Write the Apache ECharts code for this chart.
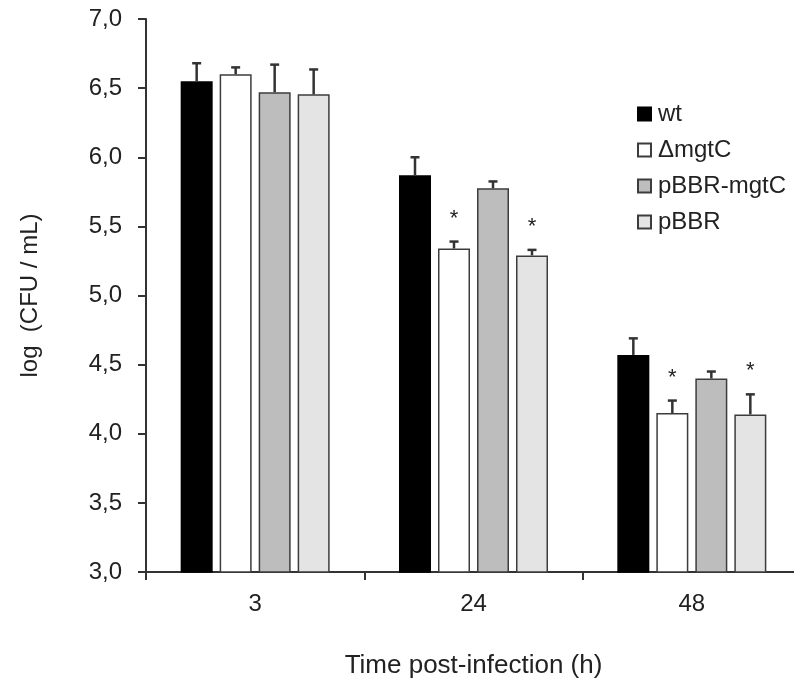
<!DOCTYPE html>
<html>
<head>
<meta charset="utf-8">
<script src="https://cdn.jsdelivr.net/npm/echarts@6/dist/echarts.min.js"></script>
<style>
  html, body { margin: 0; padding: 0; background: #fff; }
  #chart { width: 794px; height: 681px; }
</style>
</head>
<body>
<div id="chart"></div>
<script>
var categories = ['3', '24', '48'];
var seriesNames = ['wt', '\u0394mgtC', 'pBBR-mgtC', 'pBBR'];

// log(CFU/mL) means and upper error (SD)
var wtValues = [6.55, 5.87, 4.57];
var wtErrors = [0.13, 0.13, 0.12];
var mutantValues = [6.60, 5.34, 4.15];
var mutantErrors = [0.05, 0.05, 0.09];
var complValues = [6.47, 5.775, 4.40];
var complErrors = [0.20, 0.05, 0.05];
var vectorValues = [6.455, 5.29, 4.14];
var vectorErrors = [0.18, 0.04, 0.145];

// significance asterisks per group
var mutantStars = [false, true, true];
var vectorStars = [false, true, true];
var noStars = [false, false, false];

var yTicks = [3.0, 3.5, 4.0, 4.5, 5.0, 5.5, 6.0, 6.5, 7.0];

var fontName = '"Liberation Sans", Arial, sans-serif';
var barW = 32, barGapPx = 7;

var groups = [
    { name: seriesNames[0], values: wtValues, errors: wtErrors, stars: noStars, color: '#000000', border: '#000000' },
    { name: seriesNames[1], values: mutantValues, errors: mutantErrors, stars: mutantStars, color: '#ffffff', border: '#3c3c3c' },
    { name: seriesNames[2], values: complValues, errors: complErrors, stars: noStars, color: '#bdbdbd', border: '#3c3c3c' },
    { name: seriesNames[3], values: vectorValues, errors: vectorErrors, stars: vectorStars, color: '#e4e4e4', border: '#3c3c3c' }
];

function errorSeries(g, idx) {
    var data = g.values.map(function (v, i) {
        return [i, v, v + g.errors[i], g.stars[i] ? 1 : 0];
    });
    return {
        type: 'custom',
        name: g.name + ' err',
        z: 5,
        silent: true,
        data: data,
        encode: { x: 0, y: [1, 2] },
        renderItem: function (params, api) {
            var offset = (idx - 1.5) * (barW + barGapPx);
            var base = api.coord([api.value(0), api.value(1)]);
            var top = api.coord([api.value(0), api.value(2)]);
            var x = base[0] + offset;
            var style = { stroke: '#333333', lineWidth: 2.5 };
            var children = [
                { type: 'line', shape: { x1: x, y1: base[1], x2: x, y2: top[1] }, style: style },
                { type: 'line', shape: { x1: x - 4.5, y1: top[1], x2: x + 4.5, y2: top[1] }, style: style }
            ];
            if (api.value(3)) {
                children.push({
                    type: 'text',
                    style: {
                        text: '*', x: x, y: top[1] - 23,
                        fill: '#222', fontSize: 22, fontFamily: fontName,
                        align: 'center', verticalAlign: 'middle'
                    }
                });
            }
            return { type: 'group', children: children };
        }
    };
}

var series = [];
groups.forEach(function (g) {
    series.push({
        name: g.name,
        type: 'bar',
        barWidth: barW,
        barGap: (barGapPx / barW * 100) + '%',
        data: g.values,
        itemStyle: { color: g.color, borderColor: g.border, borderWidth: 1.5 }
    });
});
groups.forEach(function (g, i) { series.push(errorSeries(g, i)); });

var chart = echarts.init(document.getElementById('chart'));
chart.setOption({
    backgroundColor: '#ffffff',
    animation: false,
    grid: { left: 146, top: 19, width: 655, bottom: 109, outerBoundsMode: 'none' },
    legend: {
        data: seriesNames,
        orient: 'vertical',
        left: 632,
        top: 97,
        icon: 'rect',
        itemWidth: 13,
        itemHeight: 13,
        itemGap: 12,
        textStyle: { fontSize: 24, color: '#222', fontFamily: fontName, padding: [0, 0, 0, 2] }
    },
    xAxis: {
        type: 'category',
        data: categories,
        name: 'Time post-infection (h)',
        nameLocation: 'middle',
        nameGap: 81,
        nameTextStyle: { fontSize: 26, color: '#222', fontFamily: fontName },
        axisLine: { lineStyle: { color: '#333', width: 2 } },
        axisTick: { show: true, length: 8, lineStyle: { color: '#333', width: 2 } },
        axisLabel: { fontSize: 24, color: '#222', fontFamily: fontName, margin: 20 },
        splitLine: { show: false }
    },
    yAxis: {
        type: 'value',
        min: yTicks[0],
        max: yTicks[yTicks.length - 1],
        interval: 0.5,
        name: 'log  (CFU / mL)',
        nameLocation: 'middle',
        nameGap: 104,
        nameTextStyle: { fontSize: 24, color: '#222', fontFamily: fontName },
        axisLine: { show: true, lineStyle: { color: '#333', width: 2 } },
        axisTick: { show: true, length: 8, lineStyle: { color: '#333', width: 2 } },
        axisLabel: {
            fontSize: 24, color: '#222', fontFamily: fontName, margin: 24,
            formatter: function (v) { return v.toFixed(1).replace('.', ','); }
        },
        splitLine: { show: false }
    },
    series: series
});
</script>
</body>
</html>
